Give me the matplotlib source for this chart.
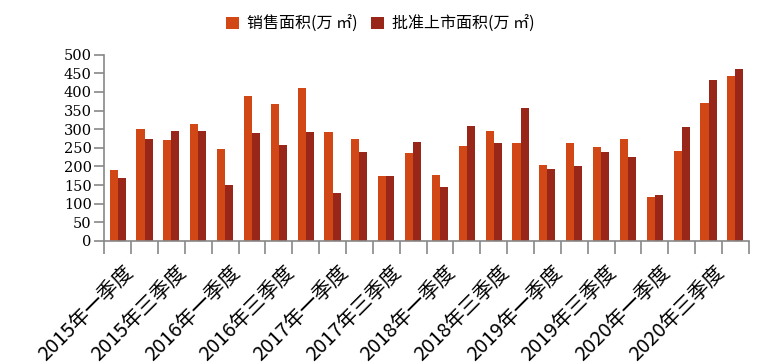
import numpy as np
import matplotlib.pyplot as plt
import matplotlib.transforms as mtransforms
from matplotlib.ticker import FixedLocator, NullFormatter

plt.rcParams["font.serif"] = ["DejaVu Serif", "Liberation Serif"]

# quarters 2015Q1 .. 2020Q4
years = [2015, 2016, 2017, 2018, 2019, 2020]
quarters = ["一", "二", "三", "四"]
categories = [f"{y}年{q}季度" for y in years for q in quarters]

sales = [190, 300, 271, 314, 247, 389, 367, 410, 292, 274, 174, 236,
         177, 255, 295, 263, 204, 263, 252, 274, 118, 241, 370, 443]
approved = [169, 274, 295, 295, 150, 290, 258, 292, 129, 239, 174, 266,
            145, 309, 263, 357, 193, 201, 239, 225, 123, 306, 432, 461]

series_names = ["销售面积(万 ㎡)", "批准上市面积(万 ㎡)"]
colors = ["#D24716", "#982619"]
cjk = ["Noto Sans CJK SC", "DejaVu Sans"]

fig = plt.figure(figsize=(7.61, 3.64), dpi=100)
ax = fig.add_axes([0.137, 0.338, 0.847, 0.512])

x = np.arange(len(categories))
w = 0.3
ax.bar(x - w / 2, sales, width=w, color=colors[0], label=series_names[0])
ax.bar(x + w / 2, approved, width=w, color=colors[1], label=series_names[1])

ax.set_xlim(-0.5, len(categories) - 0.5)
ax.set_ylim(0, 500)
yticks = np.arange(0, 501, 50)
ax.set_yticks(yticks)
ax.set_yticklabels([str(v) for v in yticks], family="serif", fontsize=10.5)

for s in ["top", "right"]:
    ax.spines[s].set_visible(False)
for s in ["left", "bottom"]:
    ax.spines[s].set_color("#888888")
    ax.spines[s].set_linewidth(1.2)

# labels on every other quarter, tick marks on category boundaries
ax.set_xticks(x[::2])
ax.set_xticklabels(categories[::2], rotation=45, ha="right", va="top",
                   rotation_mode="anchor", family=cjk, fontsize=14.5)
ax.tick_params(axis="x", which="major", length=0, pad=15)
shift = mtransforms.ScaledTranslation(5 / 100, 0, fig.dpi_scale_trans)
for lab in ax.get_xticklabels():
    lab.set_transform(lab.get_transform() + shift)
ax.xaxis.set_minor_locator(FixedLocator(np.arange(-0.5, len(categories), 1)))
ax.xaxis.set_minor_formatter(NullFormatter())
ax.tick_params(axis="x", which="minor", length=9, color="#888888", width=1.2)
ax.tick_params(axis="y", length=7, color="#888888", width=1.2, pad=2)

fig.legend(loc="upper center", bbox_to_anchor=(0.5, 0.997), ncol=2, frameon=False,
           prop={"family": cjk, "size": 11.5}, handlelength=0.85, handleheight=0.85,
           handletextpad=0.5, columnspacing=0.8)

fig.savefig("out.png", dpi=100)
